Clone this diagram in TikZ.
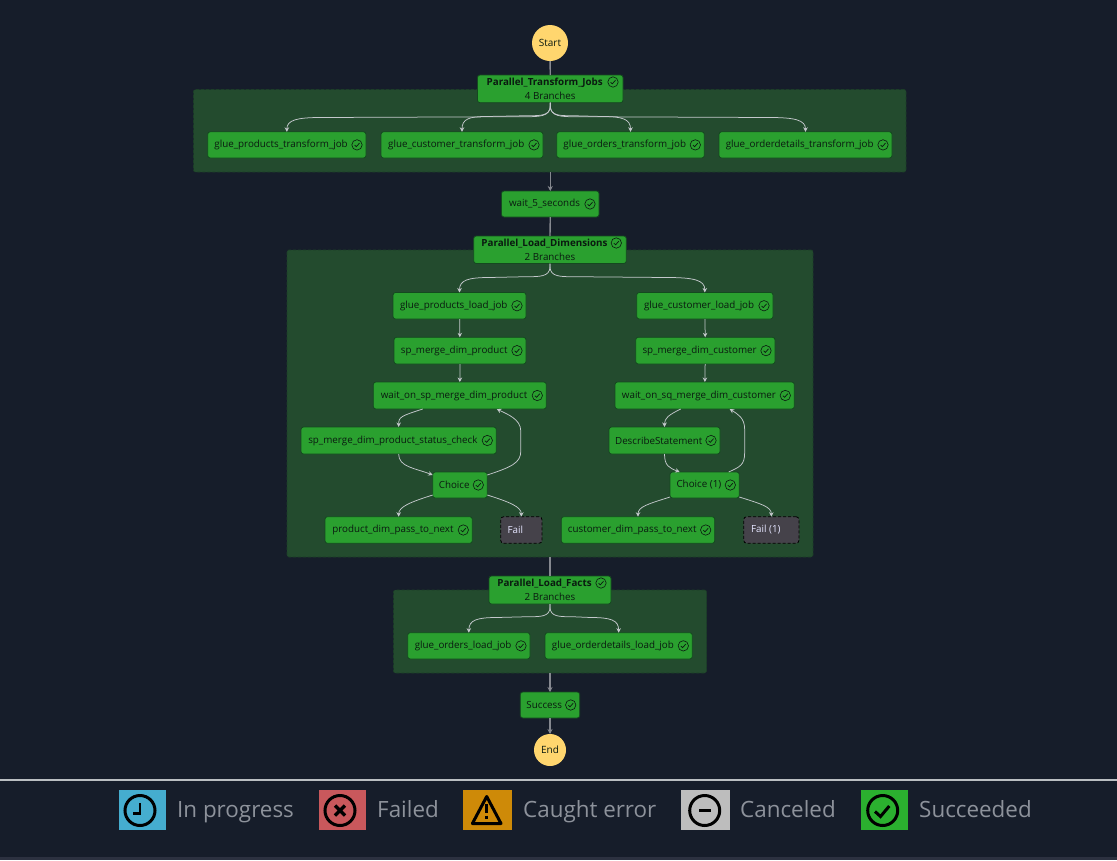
\documentclass[tikz,border=0pt]{standalone}
\usepackage{fontspec}
\setmainfont{Open Sans}
\usetikzlibrary{arrows.meta,calc}
\definecolor{bgc}{HTML}{161D2A}
\definecolor{grpc}{HTML}{234B2E}
\definecolor{grpb}{HTML}{1C3F28}
\definecolor{jobc}{HTML}{2AA02F}
\definecolor{jobb}{HTML}{14491F}
\definecolor{inkc}{HTML}{0A1A10}
\definecolor{failc}{HTML}{45424A}
\definecolor{termc}{HTML}{FFD66E}
\definecolor{linec}{HTML}{C4C8CC}
\definecolor{spinec}{HTML}{85888F}
\definecolor{legc}{HTML}{8D929B}
\definecolor{footc}{HTML}{2C3140}
\definecolor{legblue}{HTML}{45ADCF}
\definecolor{legred}{HTML}{C9585C}
\definecolor{legamber}{HTML}{CE8A08}
\definecolor{leggrey}{HTML}{BDBDBD}
\definecolor{leggreen}{HTML}{2BB02F}
\tikzset{
  grp/.style={fill=grpc,draw=grpb,densely dashed,line width=.6pt,rounded corners=2pt,inner sep=0pt,outer sep=0pt},
  job/.style={fill=jobc,draw=jobb,line width=.8pt,rounded corners=2.5pt,inner sep=0pt,outer sep=0pt,text=inkc,font=\fontsize{9.8}{14}\selectfont,align=center},
  failbox/.style={fill=failc,draw=black,densely dashed,line width=.8pt,rounded corners=3pt,inner sep=0pt,outer sep=0pt,text=white!90!blue,font=\fontsize{9.8}{14}\selectfont},
  term/.style={circle,fill=termc,inner sep=0pt,outer sep=0pt,text=inkc,font=\fontsize{10}{11}\selectfont},
  flowedge/.style={draw=linec,line width=.75pt,-{Stealth[length=4.5pt,width=4.5pt]}},
  spine/.style={draw=spinec,line width=1.3pt},
  spinetip/.style={spine,-{Stealth[length=5pt,width=5pt,fill=linec]}},
  legtext/.style={anchor=base west,text=legc,inner sep=0pt,font=\fontsize{22.4}{25}\selectfont},
  ic/.style={draw=black,line width=3pt},
  okmark/.pic={\draw[inkc,line width=.6pt] (0,0) circle (5.2);
    \draw[inkc,line width=.7pt] (-2.4,0.2) -- (-0.7,1.8) -- (2.5,-1.8);}
}
\newcommand\boxnode[7][job]{\node[#1,minimum width={(#5-#3)*1pt},minimum height={(#6-#4)*1pt}] (#2) at ({(#3+#5)/2},{(#4+#6)/2}) {#7};}
\newcommand\tasknode[6]{\boxnode{#1}{#2}{#3}{#4}{#5}{\raisebox{-1.2pt}{#6}\hspace*{11.5pt}}\pic at ($(#1.east)+(-9,0)$) {okmark};}
\newcommand\parnode[7]{\boxnode{#1}{#2}{#3}{#4}{#5}{\textbf{#6}\hspace*{11pt}\\#7}\pic at ($(#1.north east)+(-10,7)$) {okmark};}
% fan edge: from, to, level of the flat run, bend length at start and at end
\newcommand\fanedge[5]{\draw[flowedge] let \p1=(#1),\p2=(#2) in (\p1) -- ++(0,3) .. controls ({\x1},{-(#3)*1pt}) and ({\x1+(#4)*.45pt},{-(#3-.3)*1pt}) .. ({\x1+(#4)*1pt},{-(#3-.3)*1pt}) -- ({\x2-(#5)*1pt},{-(#3+.5)*1pt}) .. controls ({\x2-(#5)*.3pt},{-(#3+.5)*1pt}) and ({\x2},{-(#3+3)*1pt}) .. (\p2);}
\begin{document}
\begin{tikzpicture}[x=1pt,y=-1pt]
\useasboundingbox (0,0) rectangle (1117,860);
\fill[bgc] (0,0) rectangle (1117,860);
% containers
\boxnode[grp]{gA}{193.5}{89.5}{906}{172}{}
\boxnode[grp]{gB}{287}{250}{813}{557}{}
\boxnode[grp]{gC}{393.5}{590}{706.5}{673}{}
% nodes
\node[term,minimum size=36pt] (start) at (550,43) {\raisebox{-1.6pt}{Start}};
\parnode{pT}{477.5}{75}{623}{102.7}{Parallel\_Transform\_Jobs}{4 Branches}
\tasknode{tA}{207.7}{131.8}{366}{158}{glue\_products\_transform\_job}
\tasknode{tB}{381}{131.8}{543}{158}{glue\_customer\_transform\_job}
\tasknode{tC}{556.7}{131.8}{704.3}{158}{glue\_orders\_transform\_job}
\tasknode{tD}{719}{131.8}{892}{158}{glue\_orderdetails\_transform\_job}
\tasknode{waitF}{501.5}{191}{599}{217}{wait\_5\_seconds}
\parnode{pD}{473.7}{236}{626.3}{263.5}{Parallel\_Load\_Dimensions}{2 Branches}
\tasknode{lP}{393}{292.5}{526}{319}{glue\_products\_load\_job}
\tasknode{mP}{394}{337.3}{526}{364}{sp\_merge\_dim\_product}
\tasknode{wP}{373.3}{382}{546.3}{409}{wait\_on\_sp\_merge\_dim\_product}
\tasknode{sP}{301}{427}{496.3}{454}{sp\_merge\_dim\_product\_status\_check}
\tasknode{cP}{432.7}{472}{487.3}{498}{Choice}
\tasknode{nP}{325}{516.7}{472.3}{543.3}{product\_dim\_pass\_to\_next}
\boxnode[failbox]{fP}{500.7}{516.7}{542}{543.3}{\raisebox{-1.2pt}{Fail}\hspace*{12pt}}
\tasknode{lC}{636.7}{292.5}{773}{319}{glue\_customer\_load\_job}
\tasknode{mC}{635.7}{337.3}{775}{364}{sp\_merge\_dim\_customer}
\tasknode{wC}{615}{382}{794.3}{409}{wait\_on\_sq\_merge\_dim\_customer}
\tasknode{sC}{609}{427}{720}{454}{DescribeStatement}
\tasknode{cC}{670}{472}{739.3}{498}{Choice (1)}
\tasknode{nC}{561.3}{516.7}{714.7}{543.3}{customer\_dim\_pass\_to\_next}
\boxnode[failbox]{fC}{743.7}{516.7}{799}{543.3}{\raisebox{-1.2pt}{Fail (1)}\hspace*{11pt}}
\parnode{pF}{489}{576}{611}{604}{Parallel\_Load\_Facts}{2 Branches}
\tasknode{tE}{407.7}{632.7}{530}{659}{glue\_orders\_load\_job}
\tasknode{tG}{545}{632.7}{692.3}{659}{glue\_orderdetails\_load\_job}
\tasknode{succ}{520.3}{692}{579.7}{718}{Success}
\node[term,minimum size=32pt] (endn) at (550,750) {\raisebox{-1.2pt}{End}};
% spine
\draw[spine] (start) -- (pT);
\draw[spinetip] (gA.south -| waitF.north) -- (waitF.north);
\draw[spine] (waitF) -- (pD);
\draw[spine] (gB.south -| pF.north) -- (pF.north);
\draw[spinetip] (gC.south -| succ.north) -- (succ.north);
\draw[spinetip] (succ) -- (endn);
% fans
\fanedge{pT.south}{tA.north}{117}{-26}{-34}
\fanedge{pT.south}{tB.north}{116}{-22}{-24}
\fanedge{pT.south}{tC.north}{116}{22}{28}
\fanedge{pT.south}{tD.north}{117}{26}{36}
\fanedge{pD.south}{lP.north}{277}{-24}{-30}
\fanedge{pD.south}{lC.north}{277}{24}{38}
\fanedge{pF.south}{tE.north}{617}{-22}{-28}
\fanedge{pF.south}{tG.north}{617}{22}{28}
% chains
\draw[flowedge] (lP) -- (mP);
\draw[flowedge] (mP) -- (wP);
\draw[flowedge] (lC) -- (mC);
\draw[flowedge] (mC) -- (wC);
% left column
\draw[flowedge] ($(wP.south)+(-37,0)$) .. controls +(-22,7) and +(0,-10) .. (sP.north);
\draw[flowedge] (sP.south) .. controls +(0,13) and +(-18,-7) .. ($(cP.north west)+(0,3)$);
\draw[flowedge] ($(cP.south west)+(0,-3)$) .. controls +(-22,7) and +(0,-10) .. (nP.north);
\draw[flowedge] ($(cP.south east)+(0,-3)$) .. controls +(22,7) and +(0,-10) .. (fP.north);
\draw[flowedge] ($(cP.north east)+(0,3)$) .. controls +(24,-8) and +(0,12) .. ++(33.5,-24) -- ++(0,-20) .. controls +(0,-12) and +(10,5) .. ($(wP.south)+(37,0)$);
% right column
\draw[flowedge] ($(wC.south)+(-24,0)$) .. controls +(-12,6) and +(0,-9) .. (sC.north);
\draw[flowedge] (sC.south) .. controls +(0,12) and +(-10,-4) .. ($(cC.north)+(-25,0)$);
\draw[flowedge] ($(cC.south west)+(0,-1)$) .. controls +(-22,7) and +(0,-10) .. (nC.north);
\draw[flowedge] ($(cC.south east)+(0,-1)$) .. controls +(22,7) and +(0,-10) .. (fC.north);
\draw[flowedge] ($(cC.north)+(24,0)$) .. controls +(11,-5) and +(0,12) .. ++(16,-19) -- ++(0,-24) .. controls +(0,-11) and +(8,5) .. ($(wC.south)+(25,0)$);
% legend
\fill[linec!95!black] (0,779) rectangle (1117,781);
\fill[footc] (0,857) rectangle (1117,860);
\fill[legblue] (119,790) rectangle (165.7,830);
\draw[ic] (140,810.5) circle (15);
\draw[ic,line width=2.6pt] (140,803) -- (140,813.2) -- (132.5,813.2);
\node[legtext] (l1) at (177,817.5) {In progress};
\fill[legred] (319,790) rectangle (365.7,830);
\draw[ic] (340,810.5) circle (15);
\draw[ic,line width=3.4pt] (335,805.5) -- (345,815.5) (345,805.5) -- (335,815.5);
\node[legtext] (l2) at (377,817.5) {Failed};
\fill[legamber] (463.3,790) rectangle (512.3,830);
\draw[ic,line join=round] (486.7,796.5) -- (501,823.5) -- (472.4,823.5) -- cycle;
\draw[ic,line width=3.2pt] (486.7,804) -- (486.7,813) (486.7,815.5) -- (486.7,819);
\node[legtext] (l3) at (523,817.5) {Caught error};
\fill[leggrey] (681.3,790) rectangle (730.3,830);
\draw[ic] (704.7,810.5) circle (15);
\draw[ic] (699,810.5) -- (710.7,810.5);
\node[legtext] (l4) at (740,817.5) {Canceled};
\fill[leggreen] (861.3,790) rectangle (908,830);
\draw[ic] (882.7,810.5) circle (15);
\draw[ic,line join=miter] (875,811.5) -- (880.5,816.5) -- (889.3,806);
\node[legtext] (l5) at (919,817.5) {Succeeded};
\end{tikzpicture}
\end{document}
